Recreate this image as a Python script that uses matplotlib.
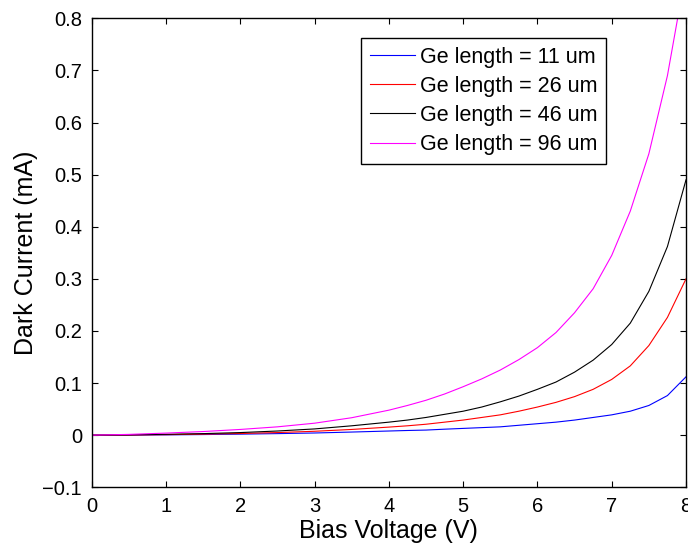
import matplotlib.pyplot as plt

plt.rcParams['font.family'] = ['Liberation Sans', 'DejaVu Sans']

# bias voltage points (V)
volts = [0, 0.5, 1, 1.5, 2, 2.5, 3, 3.5, 4, 4.25, 4.5, 4.75, 5, 5.25, 5.5,
         5.75, 6, 6.25, 6.5, 6.75, 7, 7.25, 7.5, 7.75, 8]

# dark current (mA)
ge_11 = [0, 0.0002, 0.0006, 0.0012, 0.002, 0.003, 0.0042, 0.006, 0.008,
         0.009, 0.0098, 0.0115, 0.013, 0.0145, 0.016,
         0.019, 0.022, 0.025, 0.029, 0.034, 0.039, 0.046, 0.057, 0.076, 0.112]
ge_26 = [0, 0.0004, 0.001, 0.002, 0.0032, 0.005, 0.0075, 0.011, 0.0155,
         0.018, 0.021, 0.025, 0.029, 0.034, 0.039,
         0.046, 0.054, 0.063, 0.074, 0.088, 0.107, 0.133, 0.172, 0.226, 0.30]
ge_46 = [0, 0.0006, 0.0017, 0.003, 0.005, 0.008, 0.012, 0.018, 0.025,
         0.029, 0.034, 0.040, 0.046, 0.054, 0.064,
         0.075, 0.088, 0.102, 0.121, 0.144, 0.174, 0.215, 0.276, 0.362, 0.49]
ge_96 = [0, 0.0015, 0.004, 0.007, 0.011, 0.016, 0.023, 0.0335, 0.048,
         0.057, 0.067, 0.079, 0.093, 0.108, 0.125,
         0.145, 0.168, 0.197, 0.235, 0.281, 0.345, 0.43, 0.54, 0.69, 0.89]

labels = ['Ge length = 11 um', 'Ge length = 26 um',
          'Ge length = 46 um', 'Ge length = 96 um']
colors = ['#0000ff', '#ff0000', '#000000', '#ff00ff']

fig = plt.figure(figsize=(6.88, 5.43), dpi=100)
ax = fig.add_axes([0.1333, 0.1026, 0.8638, 0.8637])

for ys, lab, c in zip([ge_11, ge_26, ge_46, ge_96], labels, colors):
    ax.plot(volts, ys, color=c, lw=0.8, label=lab)

ax.set_xlim(0, 8)
ax.set_ylim(-0.1, 0.8)
ax.set_xticks(range(0, 9))
ax.set_yticks([-0.1, 0, 0.1, 0.2, 0.3, 0.4, 0.5, 0.6, 0.7, 0.8])
ax.set_yticklabels(['\u22120.1', '0', '0.1', '0.2', '0.3', '0.4', '0.5',
                    '0.6', '0.7', '0.8'])
ax.tick_params(direction='in', top=True, right=True, length=4.2, width=0.8,
               labelsize=14.5)
ax.tick_params(axis='x', pad=7)
ax.tick_params(axis='y', pad=7)
for s in ax.spines.values():
    s.set_linewidth(1.0)

ax.set_xlabel('Bias Voltage (V)', fontsize=18, labelpad=2)
ax.set_ylabel('Dark Current (mA)', fontsize=18, labelpad=3)

leg = ax.legend(loc='upper right', bbox_to_anchor=(0.865, 0.958),
                borderaxespad=0,
                fontsize=15.5, handlelength=2.1, handletextpad=0.23,
                labelspacing=0.38, borderpad=0.4, fancybox=False,
                framealpha=1, edgecolor='black')
leg.get_frame().set_linewidth(1.0)

fig.savefig('out.png', dpi=100)
